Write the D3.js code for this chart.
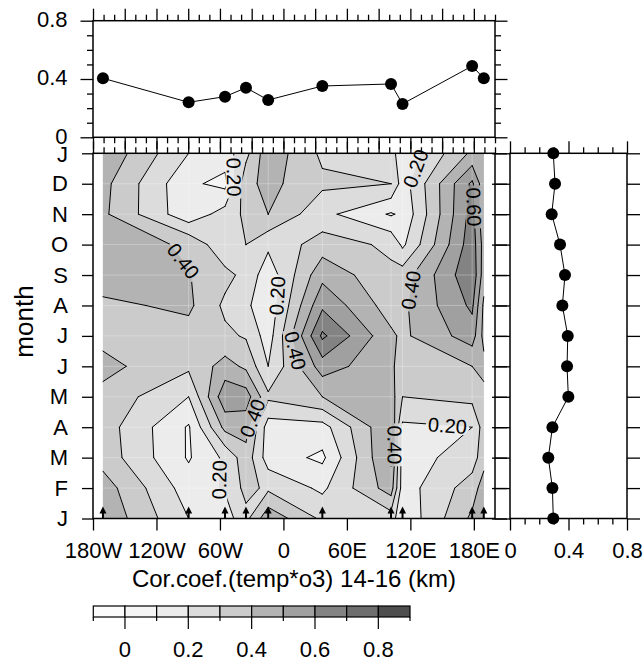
<!DOCTYPE html>
<html><head><meta charset="utf-8">
<script src="https://cdn.jsdelivr.net/npm/d3@7"></script>
<style>
html,body{margin:0;padding:0;background:#fff;}
svg{display:block;font-family:"Liberation Sans",Arial,Helvetica,sans-serif;}
</style></head><body>
<svg id="c" width="644" height="664"></svg>
<script>
// ---------------- data ----------------
const stationLon = [-170.6, -89.6, -55.2, -35.4, -14.4, 36.8, 101.7, 112.6, 178.4, 189.4];
const monthLabels = ["J","F","M","A","M","J","J","A","S","O","N","D","J"];
const lonTickValues = [-180, -120, -60, 0, 60, 120, 180];
const lonTickLabels = ["180W","120W","60W","0","60E","120E","180E"];
// correlation grid: rows = Jan..Dec, Jan(repeat); columns = stations (last = first, cyclic)
const corrJan = [0.48, 0.20, 0.15, 0.27, 0.47, 0.28, 0.25, 0.12, 0.42, 0.48];
const corrFeb = [0.45, 0.15, 0.21, 0.33, 0.28, 0.18, 0.45, 0.15, 0.35, 0.45];
const corrMar = [0.36, 0.09, 0.22, 0.36, 0.15, 0.08, 0.52, 0.15, 0.25, 0.36];
const corrApr = [0.35, 0.09, 0.43, 0.44, 0.15, 0.16, 0.50, 0.18, 0.20, 0.35];
const corrMay = [0.37, 0.20, 0.57, 0.55, 0.32, 0.40, 0.45, 0.30, 0.33, 0.37];
const corrJun = [0.43, 0.32, 0.44, 0.38, 0.20, 0.55, 0.42, 0.35, 0.40, 0.43];
const corrJul = [0.37, 0.36, 0.32, 0.29, 0.15, 0.72, 0.42, 0.38, 0.55, 0.37];
const corrAug = [0.38, 0.42, 0.28, 0.22, 0.13, 0.58, 0.35, 0.38, 0.62, 0.38];
const corrSep = [0.45, 0.405, 0.33, 0.27, 0.14, 0.47, 0.32, 0.35, 0.68, 0.45];
const corrOct = [0.46, 0.384, 0.22, 0.30, 0.22, 0.35, 0.28, 0.18, 0.66, 0.46];
const corrNov = [0.42, 0.13, 0.245, 0.32, 0.40, 0.23, 0.09, 0.12, 0.64, 0.42];
const corrDec = [0.43, 0.12, 0.07, 0.37, 0.43, 0.32, 0.30, 0.15, 0.62, 0.43];
const corrJan2 = [0.48, 0.20, 0.15, 0.27, 0.47, 0.28, 0.25, 0.12, 0.42, 0.48];
const grid = [corrJan, corrFeb, corrMar, corrApr, corrMay, corrJun, corrJul, corrAug, corrSep, corrOct, corrNov, corrDec, corrJan2];
// top panel: per-station value
const stationMean = [0.405, 0.24, 0.279, 0.34, 0.256, 0.352, 0.366, 0.229, 0.489, 0.405];
// right panel: per-month value (Jan..Dec, Jan)
const monthMean = [0.296, 0.290, 0.262, 0.290, 0.399, 0.390, 0.395, 0.358, 0.376, 0.342, 0.285, 0.308, 0.296];
const levels = [0, 0.1, 0.2, 0.3, 0.4, 0.5, 0.6, 0.7, 0.8];
const levelColors = ["#fbfbfb","#f5f5f5","#ececec","#dcdcdc","#cbcbcb","#b3b3b3","#a0a0a0","#838383","#6e6e6e","#4e4e4e"];
const cbLabelLevels = [0, 0.2, 0.4, 0.6, 0.8];
const cbLabels = ["0","0.2","0.4","0.6","0.8"];
const sideTicks = [0, 0.4, 0.8];
const sideTickLabels = ["0","0.4","0.8"];
// contour label anchors (level, lon, month index)
const labelSpecs = [
  {level:0.2, lon:-47.7, month:11.22},
  {level:0.4, lon:-96.8, month:8.4},
  {level:0.2, lon:-0.4, month:7.31},
  {level:0.2, lon:129.1, month:11.45},
  {level:0.6, lon:183.9, month:10.24},
  {level:0.4, lon:119.7, month:7.51},
  {level:0.4, lon:13.8, month:5.54},
  {level:0.4, lon:-32.5, month:3.34},
  {level:0.2, lon:-58, month:1.27},
  {level:0.4, lon:107.4, month:2.42},
  {level:0.2, lon:154.6, month:2.84}
];

// ---------------- layout ----------------
const FONT = '"Liberation Sans",Arial,Helvetica,sans-serif';
const svg = d3.select("#c");
const L = 93, R = 495, T = 153.3, B = 518.5;
const x = d3.scaleLinear().domain([-180, 200]).range([L, R]);
const y = d3.scaleLinear().domain([0, 12]).range([B, T]);
const yTop = d3.scaleLinear().domain([0, 0.8]).range([137.3, 20.7]);
const xRt = d3.scaleLinear().domain([0, 0.8]).range([510, 627]);
const RL = 510, RR = 627;

function styleAxis(g, fs) {
  g.select(".domain").remove();
  g.selectAll("line").attr("stroke", "#000").attr("stroke-width", 1.3);
  g.selectAll("text").attr("font-size", fs || 22).attr("font-family", FONT).attr("fill", "#000");
}

// ---------------- contours ----------------
const nx = stationLon.length, ny = grid.length;
const values = [];
for (let j = 0; j < ny; j++) for (let i = 0; i < nx; i++) values.push(grid[j][i]);
const contours = d3.contours().size([nx, ny]).thresholds(levels)(values);
const fiOf = cx => Math.max(0, Math.min(nx - 1, cx - 0.5));
const fjOf = cy => Math.max(0, Math.min(ny - 1, cy - 0.5));
function px(cx) {
  const fi = fiOf(cx);
  const i0 = Math.min(nx - 2, Math.floor(fi));
  const t = fi - i0;
  return x(stationLon[i0] + (stationLon[i0 + 1] - stationLon[i0]) * t);
}
function py(cy) { return y(fjOf(cy)); }

const fillG = svg.append("g");
fillG.append("rect").attr("x", x(stationLon[0])).attr("y", T)
  .attr("width", x(stationLon[nx - 1]) - x(stationLon[0])).attr("height", B - T)
  .attr("fill", levelColors[0]);
contours.forEach((c, k) => {
  let d = "";
  c.coordinates.forEach(poly => poly.forEach(ring => {
    d += "M" + ring.map(p => px(p[0]).toFixed(2) + "," + py(p[1]).toFixed(2)).join("L") + "Z";
  }));
  if (d) fillG.append("path").attr("d", d).attr("fill", levelColors[k + 1]).attr("fill-rule", "evenodd");
});

// faint cell seams
const seamG = svg.append("g").attr("stroke", "#fff").attr("stroke-opacity", 0.28).attr("stroke-width", 1);
stationLon.slice(1, -1).forEach(l => seamG.append("line").attr("x1", x(l)).attr("x2", x(l)).attr("y1", T).attr("y2", B));
d3.range(1, 12).forEach(m => seamG.append("line").attr("x1", x(stationLon[0])).attr("x2", x(stationLon[nx - 1])).attr("y1", y(m)).attr("y2", y(m)));

// contour line segments (excluding data boundary)
const eps = 1e-9;
const segs = levels.map(() => []);
contours.forEach((c, k) => {
  c.coordinates.forEach(poly => poly.forEach(ring => {
    for (let m = 0; m < ring.length - 1; m++) {
      const a = ring[m], b = ring[m + 1];
      const ai = fiOf(a[0]), aj = fjOf(a[1]), bi = fiOf(b[0]), bj = fjOf(b[1]);
      if ((ai <= eps && bi <= eps) || (ai >= nx - 1 - eps && bi >= nx - 1 - eps) ||
          (aj <= eps && bj <= eps) || (aj >= ny - 1 - eps && bj >= ny - 1 - eps)) continue;
      segs[k].push([px(a[0]), py(a[1]), px(b[0]), py(b[1])]);
    }
  }));
});

// label placement
const labelFs = 20;
const placed = [];
labelSpecs.forEach(s => {
  const k = levels.findIndex(l => Math.abs(l - s.level) < 1e-9);
  const tx = x(s.lon), ty = y(s.month);
  let best = null, bd = Infinity;
  segs[k].forEach(sg => {
    const [x1, y1, x2, y2] = sg;
    const dx = x2 - x1, dy = y2 - y1;
    const len2 = dx * dx + dy * dy;
    let t = len2 > 0 ? ((tx - x1) * dx + (ty - y1) * dy) / len2 : 0;
    t = Math.max(0, Math.min(1, t));
    const qx = x1 + t * dx, qy = y1 + t * dy;
    const dd = Math.hypot(qx - tx, qy - ty);
    if (dd < bd && len2 > 0.5) { bd = dd; best = {qx, qy, ang: Math.atan2(dy, dx) * 180 / Math.PI}; }
  });
  if (best && bd < 45) {
    let a = best.ang;
    while (a > 90) a -= 180;
    while (a <= -90) a += 180;
    placed.push({x: best.qx, y: best.qy, a, text: d3.format(".2f")(s.level)});
  }
});

const defs = svg.append("defs");
const mask = defs.append("mask").attr("id", "lblmask").attr("maskUnits", "userSpaceOnUse")
  .attr("x", 0).attr("y", 0).attr("width", 644).attr("height", 664);
mask.append("rect").attr("x", 0).attr("y", 0).attr("width", 644).attr("height", 664).attr("fill", "#fff");
placed.forEach(p => {
  const w = labelFs * 1.95 + 4, h = labelFs * 0.85;
  mask.append("rect").attr("x", -w / 2).attr("y", -h / 2).attr("width", w).attr("height", h)
    .attr("fill", "#000").attr("transform", `translate(${p.x},${p.y}) rotate(${p.a})`);
});

const lineG = svg.append("g").attr("mask", "url(#lblmask)");
segs.forEach(list => {
  if (!list.length) return;
  const d = list.map(s => `M${s[0].toFixed(2)},${s[1].toFixed(2)}L${s[2].toFixed(2)},${s[3].toFixed(2)}`).join("");
  lineG.append("path").attr("d", d).attr("fill", "none").attr("stroke", "#000").attr("stroke-width", 1).attr("stroke-linecap", "round");
});

svg.append("g").selectAll("text").data(placed).join("text")
  .attr("transform", p => `translate(${p.x},${p.y}) rotate(${p.a})`)
  .attr("text-anchor", "middle").attr("dy", "0.36em")
  .attr("font-size", labelFs).attr("font-family", FONT).attr("fill", "#000")
  .text(p => p.text);

// station arrows
const arrowG = svg.append("g");
stationLon.forEach(l => {
  const sx = x(l);
  arrowG.append("line").attr("x1", sx).attr("x2", sx).attr("y1", B).attr("y2", B - 6).attr("stroke", "#000").attr("stroke-width", 2);
  arrowG.append("path").attr("d", `M${sx - 3.5},${B - 5}L${sx},${B - 12}L${sx + 3.5},${B - 5}Z`).attr("fill", "#000");
});

// main frame + axes
svg.append("rect").attr("x", L).attr("y", T).attr("width", R - L).attr("height", B - T)
  .attr("fill", "none").attr("stroke", "#000").attr("stroke-width", 1.5);
styleAxis(svg.append("g").attr("transform", `translate(0,${B})`)
  .call(d3.axisBottom(x).tickValues(lonTickValues).tickFormat((d, i) => lonTickLabels[i]).tickSize(12).tickPadding(12)));
styleAxis(svg.append("g").attr("transform", `translate(0,${T})`)
  .call(d3.axisTop(x).tickValues(d3.range(-180, 201, 30)).tickFormat("").tickSize(12)));
styleAxis(svg.append("g").attr("transform", `translate(0,${T})`)
  .call(d3.axisTop(x).tickValues(d3.range(-170, 201, 10).filter(v => (v + 180) % 30 !== 0)).tickFormat("").tickSize(6)));
const leftAx = svg.append("g").attr("transform", `translate(${L},0)`)
  .call(d3.axisLeft(y).tickValues(d3.range(0, 13)).tickFormat((d, i) => monthLabels[i]).tickSize(11).tickPadding(14));
styleAxis(leftAx);
leftAx.selectAll("text").attr("dy", (d) => d === 12 ? "0.38em" : "0.32em");
styleAxis(svg.append("g").attr("transform", `translate(${R},0)`)
  .call(d3.axisRight(y).tickValues(d3.range(0, 13)).tickFormat("").tickSize(12)));

// ---------------- top panel ----------------
const topG = svg.append("g");
topG.append("rect").attr("x", L).attr("y", yTop(0.8)).attr("width", R - L).attr("height", yTop(0) - yTop(0.8))
  .attr("fill", "none").attr("stroke", "#000").attr("stroke-width", 1.5);
const topLeftAx = topG.append("g").attr("transform", `translate(${L},0)`)
  .call(d3.axisLeft(yTop).tickValues(sideTicks).tickFormat((d, i) => sideTickLabels[i]).tickSize(12.5).tickPadding(13));
styleAxis(topLeftAx);
topLeftAx.selectAll("text").attr("dy", "0.26em");
styleAxis(topG.append("g").attr("transform", `translate(${L},0)`)
  .call(d3.axisLeft(yTop).tickValues([0.1, 0.2, 0.3, 0.5, 0.6, 0.7]).tickFormat("").tickSize(6)));
styleAxis(topG.append("g").attr("transform", `translate(${R},0)`)
  .call(d3.axisRight(yTop).tickValues(sideTicks).tickFormat("").tickSize(12.5)));
styleAxis(topG.append("g").attr("transform", `translate(${R},0)`)
  .call(d3.axisRight(yTop).tickValues([0.1, 0.2, 0.3, 0.5, 0.6, 0.7]).tickFormat("").tickSize(6)));
styleAxis(topG.append("g").attr("transform", `translate(0,${yTop(0.8)})`)
  .call(d3.axisTop(x).tickValues(d3.range(-180, 201, 30)).tickFormat("").tickSize(12)));
styleAxis(topG.append("g").attr("transform", `translate(0,${yTop(0.8)})`)
  .call(d3.axisTop(x).tickValues(d3.range(-170, 201, 10).filter(v => (v + 180) % 30 !== 0)).tickFormat("").tickSize(6)));
styleAxis(topG.append("g").attr("transform", `translate(0,${yTop(0)})`)
  .call(d3.axisBottom(x).tickValues(d3.range(-180, 201, 30)).tickFormat("").tickSize(12)));
styleAxis(topG.append("g").attr("transform", `translate(0,${yTop(0)})`)
  .call(d3.axisBottom(x).tickValues(d3.range(-170, 201, 10).filter(v => (v + 180) % 30 !== 0)).tickFormat("").tickSize(6)));
const topPts = stationLon.map((l, i) => [x(l), yTop(stationMean[i])]);
topG.append("path").attr("d", d3.line()(topPts)).attr("fill", "none").attr("stroke", "#000").attr("stroke-width", 1);
topG.selectAll("circle").data(topPts).join("circle").attr("cx", d => d[0]).attr("cy", d => d[1]).attr("r", 6)
  .attr("fill", "#000");

// ---------------- right panel ----------------
const rtG = svg.append("g");
rtG.append("rect").attr("x", RL).attr("y", T).attr("width", RR - RL).attr("height", B - T)
  .attr("fill", "none").attr("stroke", "#000").attr("stroke-width", 1.5);
styleAxis(rtG.append("g").attr("transform", `translate(0,${B})`)
  .call(d3.axisBottom(xRt).tickValues(sideTicks).tickFormat((d, i) => sideTickLabels[i]).tickSize(12).tickPadding(12)));
styleAxis(rtG.append("g").attr("transform", `translate(0,${B})`)
  .call(d3.axisBottom(xRt).tickValues([0.1, 0.2, 0.3, 0.5, 0.6, 0.7]).tickFormat("").tickSize(6)));
styleAxis(rtG.append("g").attr("transform", `translate(0,${T})`)
  .call(d3.axisTop(xRt).tickValues(sideTicks).tickFormat("").tickSize(12)));
styleAxis(rtG.append("g").attr("transform", `translate(0,${T})`)
  .call(d3.axisTop(xRt).tickValues([0.1, 0.2, 0.3, 0.5, 0.6, 0.7]).tickFormat("").tickSize(6)));
styleAxis(rtG.append("g").attr("transform", `translate(${RL},0)`)
  .call(d3.axisLeft(y).tickValues(d3.range(0, 13)).tickFormat("").tickSize(18)));
styleAxis(rtG.append("g").attr("transform", `translate(${RR},0)`)
  .call(d3.axisRight(y).tickValues(d3.range(0, 13)).tickFormat("").tickSize(13)));
const rtPts = monthMean.map((v, i) => [xRt(v), y(i)]);
rtG.append("path").attr("d", d3.line()(rtPts)).attr("fill", "none").attr("stroke", "#000").attr("stroke-width", 1);
rtG.selectAll("circle").data(rtPts).join("circle").attr("cx", d => d[0]).attr("cy", d => d[1]).attr("r", 6)
  .attr("fill", "#000");

// ---------------- titles ----------------
svg.append("text").attr("x", (L + R) / 2).attr("y", 587).attr("text-anchor", "middle")
  .attr("font-size", 24).attr("font-family", FONT).text("Cor.coef.(temp*o3) 14-16 (km)");
svg.append("text").attr("transform", "translate(33,321.5) rotate(-90)").attr("text-anchor", "middle")
  .attr("font-size", 26).attr("font-family", FONT).text("month");

// ---------------- colorbar ----------------
const cbX = d3.scaleLinear().domain([0, levelColors.length]).range([93.3, 410]);
const cbG = svg.append("g");
cbG.selectAll("rect").data(levelColors).join("rect")
  .attr("x", (d, i) => cbX(i)).attr("y", 606).attr("width", (d, i) => cbX(i + 1) - cbX(i)).attr("height", 11)
  .attr("fill", d => d).attr("stroke", "#000").attr("stroke-width", 1.2);
d3.range(0, levelColors.length + 1).forEach(i => {
  const lv = i - 1 < 0 || i - 1 >= levels.length ? null : levels[i - 1];
  const major = lv !== null && cbLabelLevels.some(v => Math.abs(v - lv) < 1e-9);
  cbG.append("line").attr("x1", cbX(i)).attr("x2", cbX(i)).attr("y1", 617).attr("y2", major ? 629 : 621)
    .attr("stroke", "#000").attr("stroke-width", 1.2);
});
cbLabelLevels.forEach((lv, j) => {
  const i = levels.findIndex(l => Math.abs(l - lv) < 1e-9) + 1;
  cbG.append("text").attr("x", cbX(i)).attr("y", 657).attr("text-anchor", "middle")
    .attr("font-size", 22).attr("font-family", FONT).text(cbLabels[j]);
});
</script>
</body></html>
